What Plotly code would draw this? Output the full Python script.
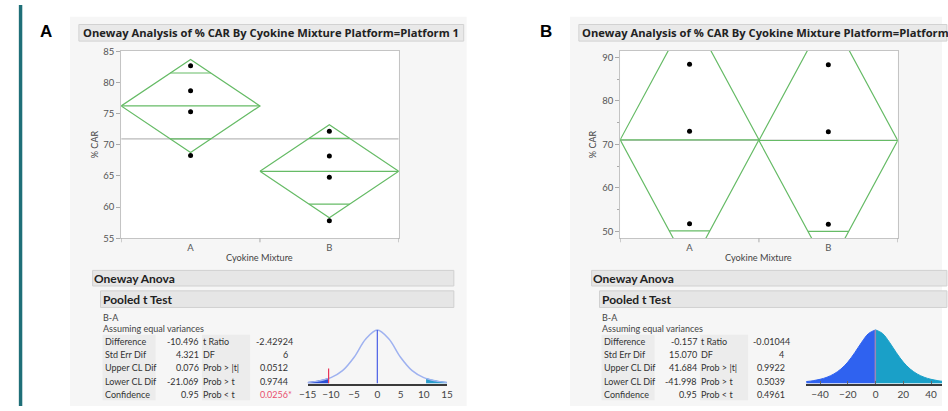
import plotly.graph_objects as go

W, H = 948, 411
FONT = "Lato"
TFONT = "Open Sans"

# ---------------- data ----------------
groups = ["A", "B"]

# Panel A (Platform 1)
a_pts = {"A": [82.7, 78.7, 75.3, 68.3], "B": [72.2, 68.2, 64.8, 57.8]}
a_means = [76.25, 65.75]
a_ci = [7.48, 7.48]
a_grand = 70.95
a_yticks = [55, 60, 65, 70, 75, 80, 85]

# Panel B (Platform 2)
b_pts = {"A": [88.4, 73.0, 51.7], "B": [88.3, 72.9, 51.6]}
b_means = [71.03, 70.88]
b_ci = [29.6, 29.6]
b_grand = 70.95
b_yticks = [50, 60, 70, 80, 90]

# Pooled t test tables
row_labels1 = ["Difference", "Std Err Dif", "Upper CL Dif", "Lower CL Dif", "Confidence"]
row_labels2 = ["t Ratio", "DF", "Prob > |t|", "Prob > t", "Prob < t"]
a_vals1 = ["-10.496", "4.321", "0.076", "-21.069", "0.95"]
a_vals2 = ["-2.42924", "6", "0.0512", "0.9744", "0.0256*"]
b_vals1 = ["-0.157", "15.070", "41.684", "-41.998", "0.95"]
b_vals2 = ["-0.01044", "4", "0.9922", "0.5039", "0.4961"]

# t-distribution sketches (relative heights)
a_dist_x = [-15, -12.5, -10, -7.5, -5, -2.5, 0, 2.5, 5, 7.5, 10, 12.5, 15]
a_dist_y = [0.02, 0.05, 0.11, 0.24, 0.49, 0.83, 1.0, 0.83, 0.49, 0.24, 0.11, 0.05, 0.02]
a_left_tail_x = [-15, -12.5, -10.5]
a_left_tail_y = [0.02, 0.05, 0.095]
a_right_tail_x = [10.5, 12.5, 15]
a_right_tail_y = [0.095, 0.05, 0.02]
a_t_pos = -10.496
a_dist_ticks = [-15, -10, -5, 0, 5, 10, 15]

b_dist_x = [-50, -45, -40, -35, -30, -25, -20, -15, -10, -5, 0,
            5, 10, 15, 20, 25, 30, 35, 40, 45, 50]
b_dist_y = [0.037, 0.053, 0.079, 0.118, 0.179, 0.27, 0.40, 0.575, 0.77, 0.934, 1.0,
            0.934, 0.77, 0.575, 0.40, 0.27, 0.179, 0.118, 0.079, 0.053, 0.037]
b_t_pos = -0.157
b_dist_ticks = [-40, -20, 0, 20, 40]

# ---------------- helpers ----------------
def px(x):
    return x / W

def py(y):
    return 1 - y / H

shapes = []
annotations = []

def rect(x0, y0, x1, y1, fill, line=None, lw=1):
    shapes.append(dict(type="rect", xref="paper", yref="paper",
                       x0=px(x0), x1=px(x1), y0=py(y1), y1=py(y0),
                       fillcolor=fill, line=dict(color=line or fill, width=lw if line else 0),
                       layer="below"))

def txt(x, y, s, size=9, color="#333", xa="left", ya="middle", bold=False, angle=0, family=FONT):
    annotations.append(dict(x=px(x), y=py(y), xref="paper", yref="paper", text=s,
                            showarrow=False, xanchor=xa, yanchor=ya, textangle=angle,
                            borderpad=0, borderwidth=0,
                            font=dict(size=size, color=color, family=family,
                                      weight="bold" if bold else "normal")))

fig = go.Figure()

GREEN = "#66bb66"

def oneway(xa, ya, pts, means, ci, grand):
    fig.add_trace(go.Scatter(x=[0, len(groups)], y=[grand, grand], mode="lines",
                             line=dict(color="#a8a8a8", width=1), xaxis=xa, yaxis=ya,
                             hoverinfo="skip", showlegend=False))
    for i, g in enumerate(groups):
        c = i + 0.5
        m, h = means[i], ci[i]
        fig.add_trace(go.Scatter(x=[i, c, i + 1, c, i], y=[m, m + h, m, m - h, m],
                                 mode="lines", line=dict(color=GREEN, width=1.2),
                                 xaxis=xa, yaxis=ya, hoverinfo="skip", showlegend=False))
        fig.add_trace(go.Scatter(x=[i, i + 1], y=[m, m], mode="lines",
                                 line=dict(color=GREEN, width=1.2),
                                 xaxis=xa, yaxis=ya, hoverinfo="skip", showlegend=False))
        o = h / 2 ** 0.5
        hw = 0.5 * (1 - o / h)
        for yy in (m + o, m - o):
            fig.add_trace(go.Scatter(x=[c - hw, c + hw], y=[yy, yy], mode="lines",
                                     line=dict(color=GREEN, width=1.2),
                                     xaxis=xa, yaxis=ya, hoverinfo="skip", showlegend=False))
        fig.add_trace(go.Scatter(x=[c] * len(pts[g]), y=pts[g], mode="markers",
                                 marker=dict(color="black", size=5),
                                 xaxis=xa, yaxis=ya, hoverinfo="skip", showlegend=False))
    for b in range(len(groups) + 1):
        shapes.append(dict(type="line", xref=xa, yref=ya + " domain", x0=b, x1=b,
                           y0=0, y1=-0.022, line=dict(color="#aaaaaa", width=1)))

oneway("x", "y", a_pts, a_means, a_ci, a_grand)
oneway("x2", "y2", b_pts, b_means, b_ci, b_grand)

# distribution A
fig.add_trace(go.Scatter(x=a_left_tail_x, y=a_left_tail_y, mode="lines", fill="tozeroy",
                         line=dict(color="#2b4fd4", width=1, shape="spline"),
                         fillcolor="#2b4fd4", xaxis="x3", yaxis="y3",
                         hoverinfo="skip", showlegend=False))
fig.add_trace(go.Scatter(x=a_right_tail_x, y=a_right_tail_y, mode="lines", fill="tozeroy",
                         line=dict(color="#2a9dcc", width=1, shape="spline"),
                         fillcolor="#2a9dcc", xaxis="x3", yaxis="y3",
                         hoverinfo="skip", showlegend=False))
fig.add_trace(go.Scatter(x=a_dist_x, y=a_dist_y, mode="lines",
                         line=dict(color="#9fb2f0", width=1.5, shape="spline"),
                         xaxis="x3", yaxis="y3", hoverinfo="skip", showlegend=False))
fig.add_trace(go.Scatter(x=[0, 0], y=[0, max(a_dist_y)], mode="lines",
                         line=dict(color="#4a5fe6", width=1.2),
                         xaxis="x3", yaxis="y3", hoverinfo="skip", showlegend=False))
fig.add_trace(go.Scatter(x=[a_t_pos, a_t_pos], y=[0, 0.28], mode="lines",
                         line=dict(color="#e8365a", width=1.2),
                         xaxis="x3", yaxis="y3", hoverinfo="skip", showlegend=False))

# distribution B
nb = b_dist_x.index(0)
fig.add_trace(go.Scatter(x=b_dist_x[:nb + 1], y=b_dist_y[:nb + 1], mode="lines", fill="tozeroy",
                         line=dict(color="#2f62f0", width=1, shape="spline"),
                         fillcolor="#2f62f0", xaxis="x4", yaxis="y4",
                         hoverinfo="skip", showlegend=False))
fig.add_trace(go.Scatter(x=b_dist_x[nb:], y=b_dist_y[nb:], mode="lines", fill="tozeroy",
                         line=dict(color="#1aa0c8", width=1, shape="spline"),
                         fillcolor="#1aa0c8", xaxis="x4", yaxis="y4",
                         hoverinfo="skip", showlegend=False))
fig.add_trace(go.Scatter(x=[b_t_pos, b_t_pos], y=[0, max(b_dist_y)], mode="lines",
                         line=dict(color="#9a86b8", width=1.5),
                         xaxis="x4", yaxis="y4", hoverinfo="skip", showlegend=False))

# ---------------- static layout pieces ----------------
rect(10, 0, 13.5, H, "#1f6f78")
rect(62, 12, 465, H, "#f6f6f6")
rect(570, 12, W, H, "#f6f6f6")

rect(114, 47, 396, 239, "white")
rect(621, 47, 903, 239, "white")

txt(38, 27, "A", size=17, color="black", xa="center", bold=True, family="Liberation Sans")
txt(546, 27, "B", size=17, color="black", xa="center", bold=True, family="Liberation Sans")

rect(71, 20, 462, 37, "#e9e9e9", "#d2d2d2")
rect(579, 20, W + 5, 37, "#e9e9e9", "#d2d2d2")
txt(75, 28.5, "Oneway Analysis of % CAR By Cyokine Mixture Platform=Platform 1",
    size=11.2, color="#222", bold=True, family=TFONT)
txt(582, 28.5, "Oneway Analysis of % CAR By Cyokine Mixture Platform=Platform",
    size=11.2, color="#222", bold=True, family=TFONT)

txt(87, 143, "% CAR", size=9, color="#444", xa="center", angle=-90)
txt(593, 143, "% CAR", size=9, color="#444", xa="center", angle=-90)
txt(255, 259, "Cyokine Mixture", size=9.2, color="#444", xa="center")
txt(762, 259, "Cyokine Mixture", size=9.2, color="#444", xa="center")

TS = 9

def report(ox, right, col1_right, col2_left, dec_x, int_right, vals1, vals2, red_last=False):
    rect(ox, 272, right, 288, "#e6e6e6", "#d0d0d0")
    txt(ox + 1, 280.5, "Oneway Anova", size=12, color="#222", bold=True)
    rect(ox + 8, 293, right, 310, "#e6e6e6", "#d0d0d0")
    txt(ox + 11, 301.5, "Pooled t Test", size=12, color="#222", bold=True)
    txt(ox + 11, 320, "B-A", size=TS, color="#444")
    txt(ox + 11, 332, "Assuming equal variances", size=TS, color="#444")
    rect(ox + 10, 338, ox + 64, 405, "#ececec")
    rect(col2_left - 1, 338, col2_left + 48, 405, "#ececec")
    rows_y = [345, 358.5, 372, 385.5, 399]
    for k, yy in enumerate(rows_y):
        txt(ox + 13, yy, row_labels1[k], size=TS, color="#333")
        txt(col1_right, yy, vals1[k], size=TS, color="#333", xa="right")
        txt(col2_left, yy, row_labels2[k], size=TS, color="#333")
        v = vals2[k]
        col = "#e8506e" if (red_last and k == len(rows_y) - 1) else "#333"
        if "." in v:
            ip, fp = v.split(".", 1)
            txt(dec_x, yy, ip, size=TS, color=col, xa="right")
            txt(dec_x, yy, "." + fp, size=TS, color=col, xa="left")
        else:
            txt(int_right, yy, v, size=TS, color=col, xa="right")


report(85, 452, 193, 197, 260, 283, a_vals1, a_vals2, red_last=True)
report(592, W + 5, 699, 703, 765, 787, b_vals1, b_vals2)

AX = dict(showgrid=False, zeroline=False, fixedrange=True)
TICKF = dict(size=9.5, color="#555", family=FONT)

fig.update_layout(
    width=W, height=H, margin=dict(l=0, r=0, t=0, b=0),
    paper_bgcolor="white", plot_bgcolor="rgba(0,0,0,0)",
    showlegend=False, shapes=shapes, annotations=annotations,
    xaxis=dict(AX, domain=[px(114), px(396)], range=[0, 2], tickvals=[0.5, 1.5],
               ticktext=groups, ticks="", showline=True, mirror=True,
               linecolor="#c4c4c4", tickfont=TICKF, anchor="y"),
    yaxis=dict(AX, domain=[py(239), py(47)], range=[55, 85.1], tickvals=a_yticks,
               ticks="outside", ticklen=4, tickcolor="#aaaaaa", showline=True, mirror=True,
               linecolor="#c4c4c4", tickfont=TICKF, anchor="x"),
    xaxis2=dict(AX, domain=[px(621), px(903)], range=[0, 2], tickvals=[0.5, 1.5],
                ticktext=groups, ticks="", showline=True, mirror=True,
                linecolor="#c4c4c4", tickfont=TICKF, anchor="y2"),
    yaxis2=dict(AX, domain=[py(239), py(47)], range=[48.4, 91.5], tickvals=b_yticks,
                ticks="outside", ticklen=4, tickcolor="#aaaaaa", showline=True, mirror=True,
                linecolor="#c4c4c4", tickfont=TICKF, anchor="x2",
                minor=dict(tickvals=[55, 65, 75, 85], ticks="outside", ticklen=2,
                           tickcolor="#aaaaaa")),
    xaxis3=dict(AX, domain=[px(303.5), px(445)], range=[-15, 15], tickvals=a_dist_ticks,
                ticks="", showline=True, linecolor="#3a3a3a", linewidth=2,
                tickfont=dict(size=10, color="#444", family=FONT), anchor="y3"),
    yaxis3=dict(AX, domain=[py(388), py(331.9)], range=[0, 1.02], visible=False, anchor="x3"),
    xaxis4=dict(AX, domain=[px(810), 1.0], range=[-50, 47.9], tickvals=b_dist_ticks,
                ticks="inside", ticklen=3, tickcolor="#666", showline=True,
                linecolor="#3a3a3a", linewidth=2,
                tickfont=dict(size=10, color="#444", family=FONT), anchor="y4"),
    yaxis4=dict(AX, domain=[py(388), py(331.9)], range=[0, 1.02], visible=False, anchor="x4"),
)

fig.write_html("out.html", config={"displayModeBar": False, "staticPlot": True},
               post_script="document.body.style.margin='0';document.body.style.overflow='hidden';")
